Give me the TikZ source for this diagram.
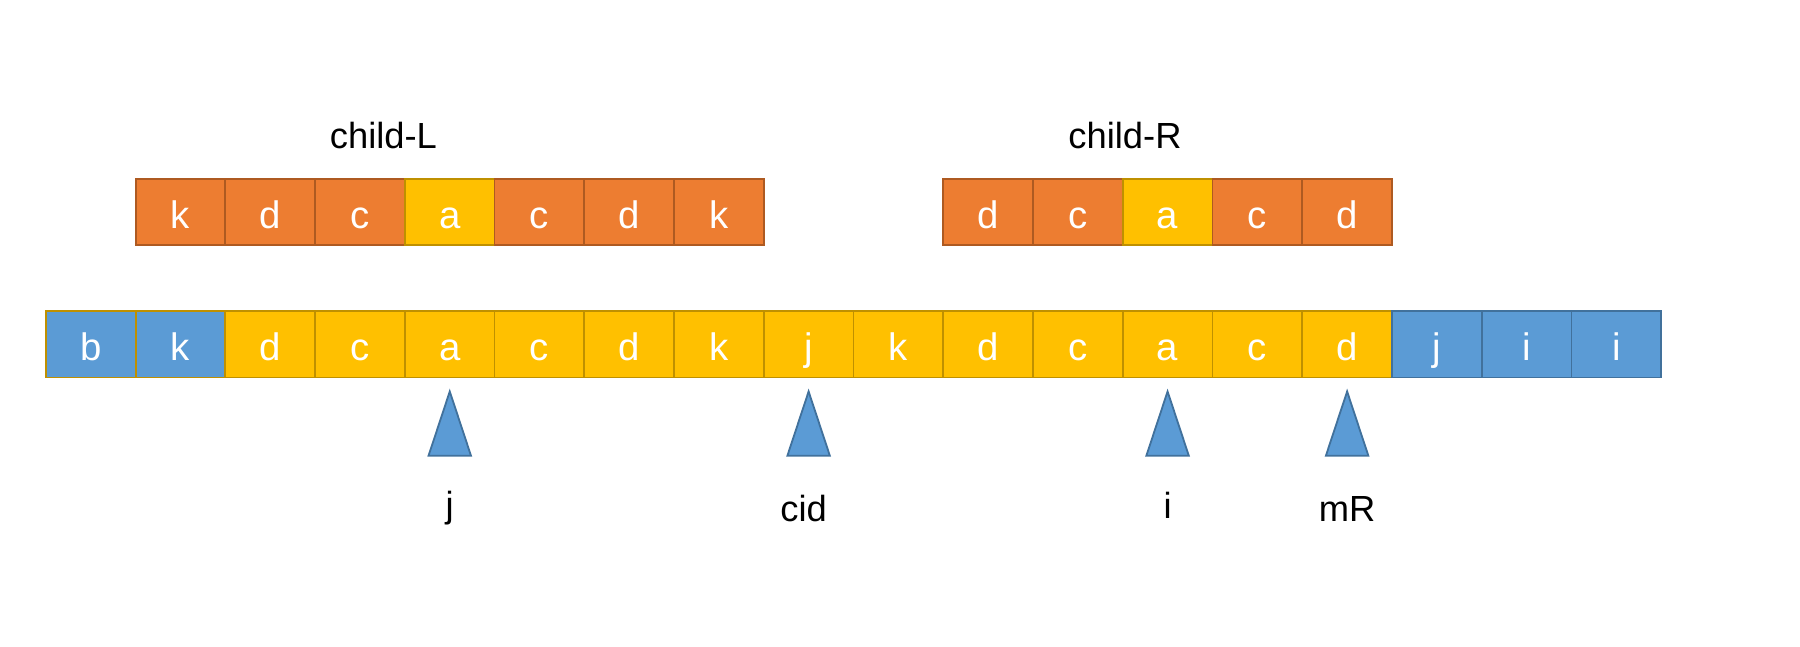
\documentclass[tikz,border=0pt]{standalone}
\usepackage{fontspec}
\setmainfont{Liberation Sans}
\definecolor{cellorange}{HTML}{ED7D31}
\definecolor{edgeorange}{HTML}{AE5A21}
\definecolor{cellyellow}{HTML}{FFC000}
\definecolor{edgeyellow}{HTML}{BF9000}
\definecolor{cellblue}{HTML}{5B9BD5}
\definecolor{edgeblue}{HTML}{41719C}
\begin{document}
\begin{tikzpicture}[x = 0.01cm, y = -0.01cm, every node/.append style={inner sep = 0pt, outer sep = 0pt},
  cell/.style={draw, line width = 0.45pt, minimum width = 0.7817cm, minimum height = 0.575cm, text = white, text height = 1em, text depth = 0.19em, font = \fontsize{9.5}{11}\selectfont},
  orng/.style={cell, fill = cellorange, draw = edgeorange},
  yelw/.style={cell, fill = cellyellow, draw = edgeyellow},
  blu/.style={cell, fill = cellblue, draw = edgeblue},
  bluy/.style={cell, fill = cellblue, draw = edgeyellow},
  pointer/.style={fill = cellblue, draw = edgeblue, line width = 0.45pt, line join = miter},
  lbl/.style={font = \fontsize{9}{11}\selectfont}]

  \useasboundingbox (0, 0) rectangle (1568, 563);

  % child-L
  \node[lbl] (childL) at (334, 118) { child-L };
  \node[orng] (l1) at (157.3, 184.5) { k };
  \node[orng] (l2) at (235.4, 184.5) { d };
  \node[orng] (l3) at (313.6, 184.5) { c };
  \node[yelw] (l4) at (391.8, 184.5) { a };
  \node[orng] (l5) at (469.9, 184.5) { c };
  \node[orng] (l6) at (548.1, 184.5) { d };
  \node[orng] (l7) at (626.3, 184.5) { k };

  % child-R
  \node[lbl] (childR) at (980, 118) { child-R };
  \node[orng] (r1) at (860.8, 184.5) { d };
  \node[orng] (r2) at (939.0, 184.5) { c };
  \node[yelw] (r3) at (1017.1, 184.5) { a };
  \node[orng] (r4) at (1095.3, 184.5) { c };
  \node[orng] (r5) at (1173.5, 184.5) { d };

  % main string
  \node[bluy] (s0) at (79.1, 300) { b };
  \node[bluy] (s1) at (157.3, 300) { k };
  \node[yelw] (s2) at (235.4, 300) { d };
  \node[yelw] (s3) at (313.6, 300) { c };
  \node[yelw] (s4) at (391.8, 300) { a };
  \node[yelw] (s5) at (469.9, 300) { c };
  \node[yelw] (s6) at (548.1, 300) { d };
  \node[yelw] (s7) at (626.3, 300) { k };
  \node[yelw] (s8) at (704.4, 300) { j };
  \node[yelw] (s9) at (782.6, 300) { k };
  \node[yelw] (s10) at (860.8, 300) { d };
  \node[yelw] (s11) at (939.0, 300) { c };
  \node[yelw] (s12) at (1017.1, 300) { a };
  \node[yelw] (s13) at (1095.3, 300) { c };
  \node[yelw] (s14) at (1173.5, 300) { d };
  \node[blu] (s15) at (1251.6, 300) { j };
  \node[blu] (s16) at (1329.8, 300) { i };
  \node[blu] (s17) at (1408.0, 300) { i };

  % pointers
  \draw[pointer] (373.3, 397) -- (391.8, 341) -- (410.3, 397) -- cycle;
  \draw[pointer] (685.9, 397) -- (704.4, 341) -- (722.9, 397) -- cycle;
  \draw[pointer] (998.6, 397) -- (1017.1, 341) -- (1035.6, 397) -- cycle;
  \draw[pointer] (1155, 397) -- (1173.5, 341) -- (1192, 397) -- cycle;

  \node[lbl] (pj) at (391.8, 443) { j };
  \node[lbl] (pcid) at (700, 443) { cid };
  \node[lbl] (pi) at (1017.1, 440) { i };
  \node[lbl] (pmR) at (1173.5, 443) { mR };

\end{tikzpicture}
\end{document}
